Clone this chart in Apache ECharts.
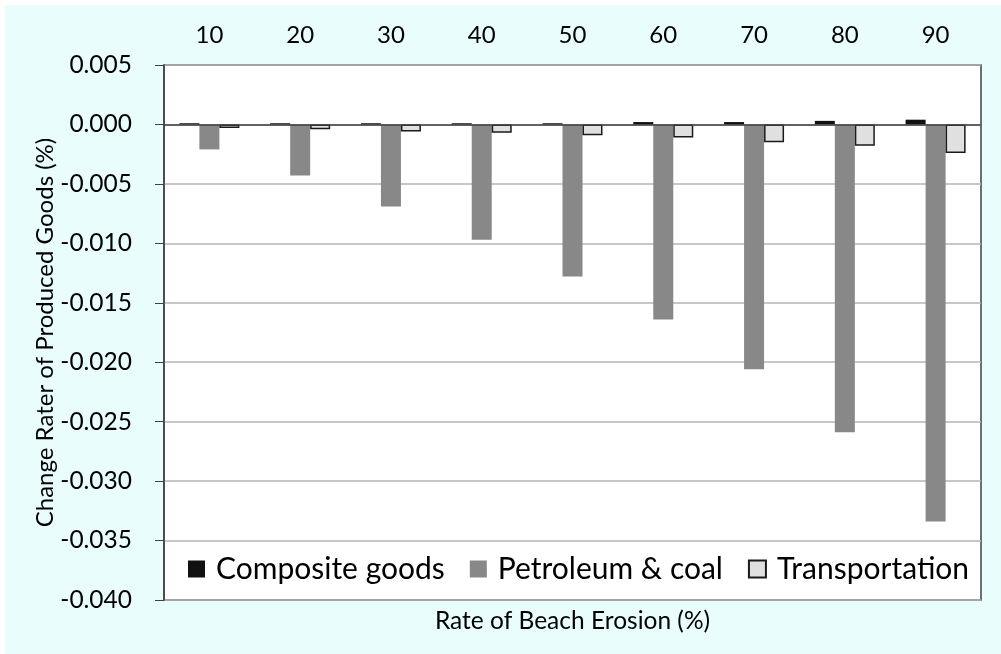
<!DOCTYPE html>
<html>
<head>
<meta charset="utf-8">
<script src="https://cdn.jsdelivr.net/npm/echarts@6/dist/echarts.min.js"></script>
<style>
    body { margin: 0; background: #ffffff; }
    #chart { position: absolute; left: 5px; top: 5px; width: 996px; height: 649px; background: #e9fdfd; }
</style>
</head>
<body>
<div id="chart"></div>
<script>
// 海滩侵蚀率 (x) 对应各部门产品变化率
var erosionRates = ['10', '20', '30', '40', '50', '60', '70', '80', '90'];
var compositeGoods = [0.0001, 0.0001, 0.0001, 0.0001, 0.0001, 0.0002, 0.0002, 0.0003, 0.0004];
var petroleumCoal = [-0.0021, -0.0043, -0.0069, -0.0097, -0.0128, -0.0164, -0.0206, -0.0259, -0.0334];
var transportation = [-0.0003, -0.0004, -0.0006, -0.0007, -0.0009, -0.0011, -0.0015, -0.0018, -0.0024];
var seriesNames = ['Composite goods', 'Petroleum & coal', 'Transportation'];

var FONT = 'Lato';

var chart = echarts.init(document.getElementById('chart'));

var option = {
    textStyle: { fontFamily: FONT },
    animation: false,
    grid: {
        left: 159,
        top: 60,
        width: 817,
        height: 535,
        show: true,
        backgroundColor: '#ffffff',
        borderColor: '#404040',
        borderWidth: 1.5
    },
    legend: {
        data: seriesNames,
        icon: 'rect',
        left: 178,
        top: 544,
        itemWidth: 17,
        itemHeight: 17,
        itemGap: 25,
        textStyle: { fontFamily: FONT, fontSize: 30, color: '#000000', padding: [0, 0, 0, 6] }
    },
    xAxis: [{
        type: 'category',
        position: 'top',
        data: erosionRates,
        axisLine: { show: false },
        axisTick: { show: false },
        axisLabel: { fontSize: 24, color: '#000000', margin: 18 }
    }, {
        // 底部只用来放轴名称
        type: 'category',
        position: 'bottom',
        data: erosionRates,
        axisLine: { show: false },
        axisTick: { show: false },
        axisLabel: { show: false },
        name: 'Rate of Beach Erosion (%)',
        nameLocation: 'middle',
        nameGap: 9,
        nameTextStyle: { fontSize: 24.5, color: '#000000' }
    }],
    yAxis: {
        type: 'value',
        min: -0.04,
        max: 0.005,
        interval: 0.005,
        name: 'Change Rater of Produced Goods (%)',
        nameLocation: 'middle',
        nameGap: 107,
        nameMoveOverlap: false,
        nameTextStyle: { fontSize: 24, color: '#000000' },
        axisLine: { show: true, lineStyle: { color: '#404040', width: 1.5 } },
        axisTick: { show: true, inside: false, length: 9, lineStyle: { color: '#404040' } },
        axisLabel: {
            fontSize: 24.5,
            color: '#000000',
            margin: 32,
            formatter: function (v) {
                return v.toFixed(3);
            }
        },
        splitLine: { show: true, lineStyle: { color: '#b4b4b4', width: 1.5 } }
    },
    series: [{
        name: seriesNames[0],
        type: 'bar',
        barWidth: 20,
        barGap: '0%',
        itemStyle: { color: '#111111' },
        data: compositeGoods,
        markLine: {
            silent: true,
            symbol: 'none',
            label: { show: false },
            lineStyle: { color: '#404040', width: 1.5, type: 'solid' },
            data: [{ yAxis: 0 }],
            z: 10
        }
    }, {
        name: seriesNames[1],
        type: 'bar',
        barWidth: 20,
        barGap: '0%',
        itemStyle: { color: '#888888' },
        data: petroleumCoal
    }, {
        name: seriesNames[2],
        type: 'bar',
        barWidth: 20,
        barGap: '0%',
        itemStyle: { color: '#e0e0e0', borderColor: '#1a1a1a', borderWidth: 1.5 },
        data: transportation
    }]
};

chart.setOption(option);
</script>
</body>
</html>
